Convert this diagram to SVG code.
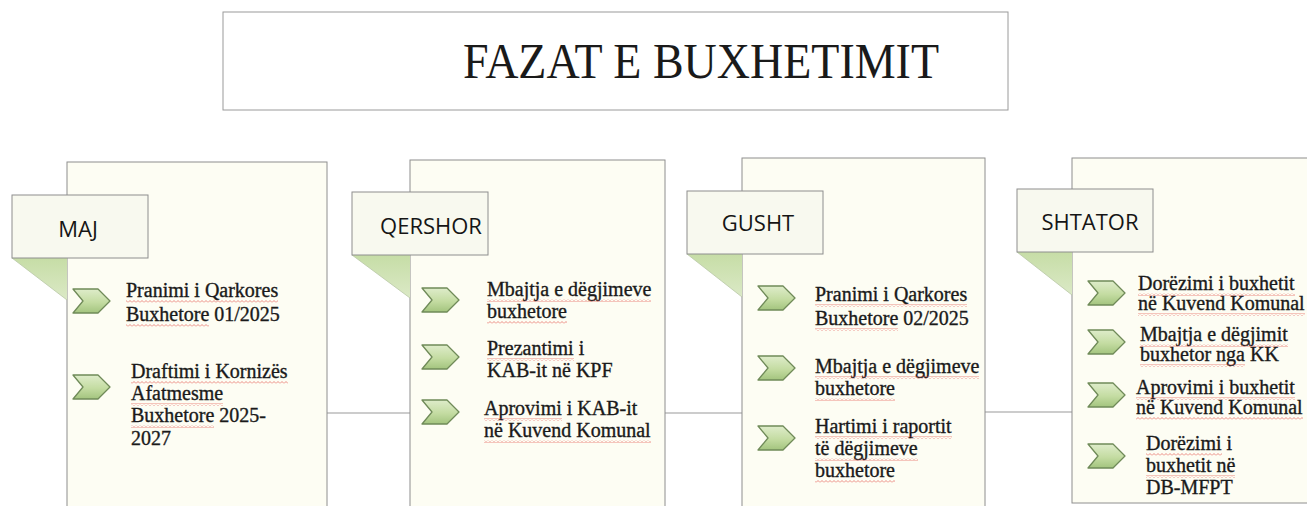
<svg xmlns="http://www.w3.org/2000/svg" width="1307" height="506" viewBox="0 0 1307 506">
<style>
.title{font-family:"Liberation Serif","Times New Roman",serif;font-size:50px;fill:#1a1a1a}
.panel{fill:#fdfdf3;stroke:#8e8e8e;stroke-width:1}
.lbl{fill:#f8f9ef;stroke:#8e8e8e;stroke-width:1}
.tail{fill:url(#tailG);stroke:none}
.lt{font-family:"Open Sans","Noto Sans","Liberation Sans",sans-serif;font-size:22px;fill:#151515;text-anchor:middle}
.it{font-family:"Liberation Serif","Times New Roman",serif;font-size:20px;fill:#1a1a1a;stroke:#1a1a1a;stroke-width:0.35}
.conn{stroke:#9a9a9a;stroke-width:1.2;fill:none}
.sq{fill:url(#squig);opacity:0.75}
</style>
<defs>
<linearGradient id="tailG" x1="0" y1="0" x2="0" y2="1">
<stop offset="0" stop-color="#c6dda6"/>
<stop offset="1" stop-color="#dbe9c6"/>
</linearGradient>
<linearGradient id="chevG" x1="0" y1="0" x2="0" y2="1">
<stop offset="0" stop-color="#deecca"/>
<stop offset="0.55" stop-color="#c4dca2"/>
<stop offset="1" stop-color="#a3c47e"/>
</linearGradient>
<pattern id="squig" patternUnits="userSpaceOnUse" width="4" height="3">
<polyline points="0,2.5 2,0.5 4,2.5" fill="none" stroke="#e0403a" stroke-width="0.8"/>
</pattern>
<path id="chev" d="M0,0 H25 L37,12 L25,24 H0 L10,12 Z" fill="url(#chevG)" stroke="#6f8a58" stroke-width="1.3" stroke-linejoin="round"/>
</defs>
<rect width="1307" height="506" fill="#ffffff"/>

<g id="title">
<rect x="223" y="12" width="785" height="98" fill="#ffffff" stroke="#9a9a9a" stroke-width="1"/>
<text class="title" x="463" y="78" textLength="476" lengthAdjust="spacingAndGlyphs">FAZAT E BUXHETIMIT</text>
</g>

<g id="connectors">
<line class="conn" x1="327" y1="413" x2="410" y2="413"/>
<line class="conn" x1="665" y1="413" x2="742" y2="413"/>
<line class="conn" x1="985" y1="412" x2="1072" y2="412"/>
</g>

<g id="maj">
<rect class="panel" x="67" y="162" width="260" height="360"/>
<polygon class="tail" points="12,258 67,258 67,300"/>
<line x1="12" y1="258" x2="67" y2="300" stroke="#b9c8a6" stroke-width="0.8"/>
<rect class="lbl" x="12" y="195" width="136" height="63"/>
<text class="lt" x="78" y="237">MAJ</text>
<use href="#chev" x="73" y="289"/>
<use href="#chev" x="73" y="375"/>
<text class="it" x="126" y="297">Pranimi i Qarkores</text>
<text class="it" x="126" y="321">Buxhetore 01/2025</text>
<text class="it" x="131" y="378">Draftimi i Kornizës</text>
<text class="it" x="131" y="400">Afatmesme</text>
<text class="it" x="131" y="422">Buxhetore 2025-</text>
<text class="it" x="131" y="445">2027</text>
<rect class="sq" x="126" y="300" width="152" height="3"/>
<rect class="sq" x="126" y="324" width="83" height="3"/>
<rect class="sq" x="131" y="381" width="157" height="3"/>
<rect class="sq" x="131" y="403" width="92" height="3"/>
<rect class="sq" x="131" y="425" width="83" height="3"/>
</g>

<g id="qershor">
<rect class="panel" x="410" y="160" width="255" height="360"/>
<polygon class="tail" points="352,255 410,255 410,298"/>
<line x1="352" y1="255" x2="410" y2="298" stroke="#b9c8a6" stroke-width="0.8"/>
<rect class="lbl" x="352" y="192" width="136" height="63"/>
<text class="lt" x="431" y="234">QERSHOR</text>
<use href="#chev" x="422" y="288"/>
<use href="#chev" x="422" y="345"/>
<use href="#chev" x="422" y="400"/>
<text class="it" x="487" y="296">Mbajtja e dëgjimeve</text>
<text class="it" x="487" y="318">buxhetore</text>
<text class="it" x="487" y="355">Prezantimi i</text>
<text class="it" x="487" y="377">KAB-it në KPF</text>
<text class="it" x="484" y="415">Aprovimi i KAB-it</text>
<text class="it" x="484" y="437">në Kuvend Komunal</text>
<rect class="sq" x="487" y="299" width="164" height="3"/>
<rect class="sq" x="487" y="321" width="80" height="3"/>
<rect class="sq" x="487" y="358" width="87" height="3"/>
<rect class="sq" x="484" y="418" width="78" height="3"/>
<rect class="sq" x="484" y="440" width="167" height="3"/>
</g>

<g id="gusht">
<rect class="panel" x="742" y="158" width="243" height="360"/>
<polygon class="tail" points="687,254 742,254 742,297"/>
<line x1="687" y1="254" x2="742" y2="297" stroke="#b9c8a6" stroke-width="0.8"/>
<rect class="lbl" x="687" y="191" width="136" height="63"/>
<text class="lt" x="758" y="231">GUSHT</text>
<use href="#chev" x="758" y="286"/>
<use href="#chev" x="758" y="356"/>
<use href="#chev" x="758" y="426"/>
<text class="it" x="815" y="301">Pranimi i Qarkores</text>
<text class="it" x="815" y="325">Buxhetore 02/2025</text>
<text class="it" x="815" y="373">Mbajtja e dëgjimeve</text>
<text class="it" x="815" y="395">buxhetore</text>
<text class="it" x="815" y="433">Hartimi i raportit</text>
<text class="it" x="815" y="455">të dëgjimeve</text>
<text class="it" x="815" y="477">buxhetore</text>
<rect class="sq" x="815" y="304" width="152" height="3"/>
<rect class="sq" x="815" y="328" width="83" height="3"/>
<rect class="sq" x="815" y="376" width="164" height="3"/>
<rect class="sq" x="815" y="398" width="80" height="3"/>
<rect class="sq" x="815" y="436" width="137" height="3"/>
<rect class="sq" x="815" y="458" width="103" height="3"/>
<rect class="sq" x="815" y="480" width="80" height="3"/>
</g>

<g id="shtator">
<rect class="panel" x="1072" y="158" width="250" height="345"/>
<polygon class="tail" points="1017,252 1072,252 1072,295"/>
<line x1="1017" y1="252" x2="1072" y2="295" stroke="#b9c8a6" stroke-width="0.8"/>
<rect class="lbl" x="1017" y="189" width="136" height="63"/>
<text class="lt" x="1090" y="230">SHTATOR</text>
<use href="#chev" x="1088" y="281"/>
<use href="#chev" x="1088" y="330"/>
<use href="#chev" x="1088" y="383"/>
<use href="#chev" x="1088" y="444"/>
<text class="it" x="1138" y="290">Dorëzimi i buxhetit</text>
<text class="it" x="1138" y="310">në Kuvend Komunal</text>
<text class="it" x="1140" y="341">Mbajtja e dëgjimit</text>
<text class="it" x="1140" y="361">buxhetor nga KK</text>
<text class="it" x="1136" y="394">Aprovimi i buxhetit</text>
<text class="it" x="1136" y="414">në Kuvend Komunal</text>
<text class="it" x="1146" y="450">Dorëzimi i</text>
<text class="it" x="1146" y="472">buxhetit në</text>
<text class="it" x="1146" y="494">DB-MFPT</text>
<rect class="sq" x="1138" y="293" width="157" height="3"/>
<rect class="sq" x="1138" y="313" width="167" height="3"/>
<rect class="sq" x="1140" y="344" width="148" height="3"/>
<rect class="sq" x="1140" y="364" width="105" height="3"/>
<rect class="sq" x="1136" y="397" width="159" height="3"/>
<rect class="sq" x="1136" y="417" width="167" height="3"/>
<rect class="sq" x="1146" y="453" width="76" height="3"/>
<rect class="sq" x="1146" y="475" width="89" height="3"/>
</g>
</svg>
